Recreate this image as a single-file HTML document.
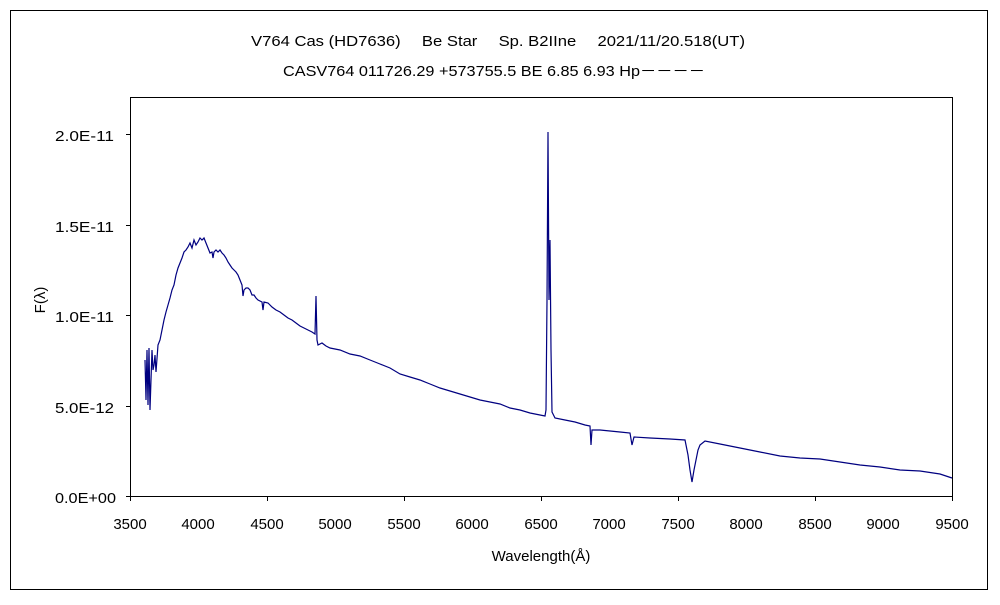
<!DOCTYPE html>
<html><head><meta charset="utf-8"><style>
body{margin:0;background:#fff;}
svg text{font-family:"Liberation Sans","Noto Sans CJK JP",sans-serif;font-size:15px;fill:#000;}
</style></head><body>
<svg width="1000" height="600" xmlns="http://www.w3.org/2000/svg">
<rect x="0" y="0" width="1000" height="600" fill="#fff"/>
<rect x="10.5" y="10.5" width="977" height="579" fill="none" stroke="#000" stroke-width="1"/>
<text x="251" y="46" textLength="494" lengthAdjust="spacingAndGlyphs">V764 Cas (HD7636)　 Be Star　 Sp. B2IIne　 2021/11/20.518(UT)</text>
<text x="283" y="76" textLength="422" lengthAdjust="spacingAndGlyphs">CASV764 011726.29 +573755.5 BE 6.85 6.93 Hp－－－－</text>
<rect x="130.5" y="97.5" width="822" height="399" fill="none" stroke="#000"/>
<g stroke="#000">
<line x1="126" y1="134.5" x2="130" y2="134.5"/><line x1="126" y1="225.5" x2="130" y2="225.5"/><line x1="126" y1="315.5" x2="130" y2="315.5"/><line x1="126" y1="406.5" x2="130" y2="406.5"/><line x1="126" y1="496.5" x2="130" y2="496.5"/>
</g>
<g>
<text x="55" y="141" textLength="59" lengthAdjust="spacingAndGlyphs">2.0E-11</text><text x="55" y="232" textLength="59" lengthAdjust="spacingAndGlyphs">1.5E-11</text><text x="55" y="322" textLength="59" lengthAdjust="spacingAndGlyphs">1.0E-11</text><text x="55" y="413" textLength="59" lengthAdjust="spacingAndGlyphs">5.0E-12</text><text x="55" y="503" textLength="61" lengthAdjust="spacingAndGlyphs">0.0E+00</text>
</g>
<g stroke="#000">
<line x1="130.5" y1="496" x2="130.5" y2="501"/><line x1="267.5" y1="496" x2="267.5" y2="501"/><line x1="404.5" y1="496" x2="404.5" y2="501"/><line x1="541.5" y1="496" x2="541.5" y2="501"/><line x1="678.5" y1="496" x2="678.5" y2="501"/><line x1="815.5" y1="496" x2="815.5" y2="501"/><line x1="952.5" y1="496" x2="952.5" y2="501"/>
</g>
<g text-anchor="middle">
<text x="130" y="529">3500</text><text x="198" y="529">4000</text><text x="267" y="529">4500</text><text x="335" y="529">5000</text><text x="404" y="529">5500</text><text x="472" y="529">6000</text><text x="541" y="529">6500</text><text x="609" y="529">7000</text><text x="678" y="529">7500</text><text x="746" y="529">8000</text><text x="815" y="529">8500</text><text x="883" y="529">9000</text><text x="952" y="529">9500</text>
</g>
<text x="541" y="561" text-anchor="middle">Wavelength(Å)</text>
<text x="45" y="300" text-anchor="middle" transform="rotate(-90 45 300)">F(λ)</text>
<polyline fill="none" stroke="#000080" stroke-width="1.2" points="145,360 146,400 147,350 148,405 149,348 150,410 151,380 152,350 153,370 154,365 155,355 156,372 158,345 160,340 162,330 164,320 166,312 168,305 170,298 172,290 174,285 176,275 178,268 180,263 182,258 184,252 186,250 188,247 190,243 192,248 194,240 196,245 198,242 200,238 202,240 204,238 206,243 208,248 210,253 212,252 213,258 214,252 216,250 218,252 220,250 222,253 224,255 226,258 228,262 230,265 232,268 234,270 236,272 238,275 240,280 242,285 243,296 244,290 246,288 248,288 250,290 252,295 254,295 256,298 258,300 262,302 263,310 264,302 268,303 272,307 276,310 280,312 284,315 288,318 292,320 296,323 300,326 304,328 308,330 312,332 315,334 316,296 317,340 318,345 322,343 326,346 330,348 340,350 350,354 360,356 370,360 380,364 390,368 400,374 410,377 420,380 430,384 440,388 450,391 460,394 470,397 480,400 490,402 500,404 510,408 520,410 530,413 540,415 545,416 546,410 547,300 548,132 549,300 550,240 551,350 552,412 555,418 565,420 575,422 585,425 590,426 591,445 592,430 600,430 610,431 620,432 630,433 632,445 634,437 650,438 670,439 685,440 688,455 690,470 692,482 694,470 696,460 698,450 700,445 705,441 720,444 740,448 760,452 780,456 800,458 820,459 840,462 860,465 880,467 900,470 920,471 940,474 952,478"/>
</svg>
</body></html>
